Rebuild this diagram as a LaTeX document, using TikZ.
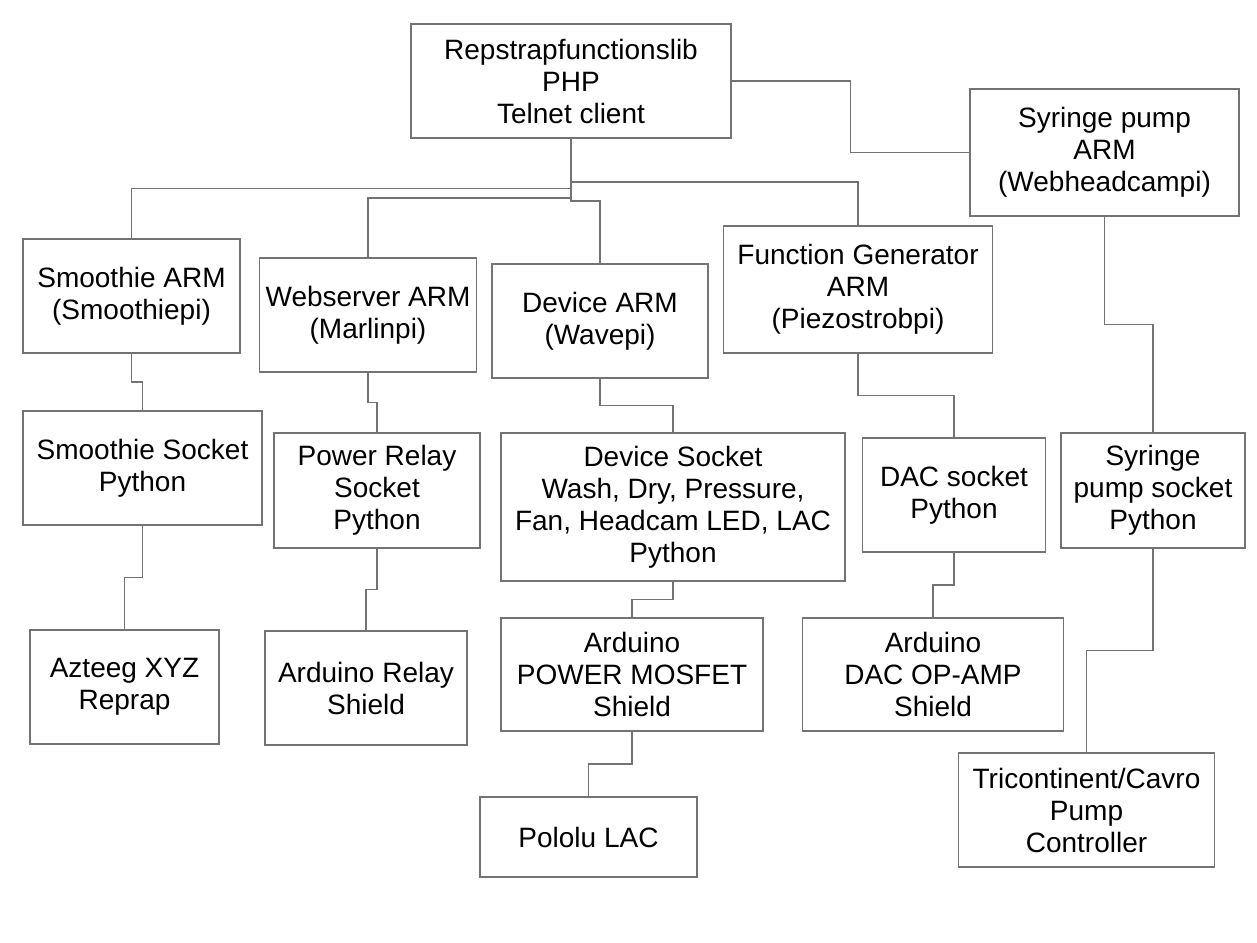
\documentclass[tikz,border=0pt]{standalone}
\usepackage{fontspec}
\setmainfont{Liberation Sans}
\usepackage{tikz}
\usetikzlibrary{calc}
\tikzset{
  unit box/.style={
     rectangle,
     draw=black!55,
     line width=1.4pt,
     align=center,
     inner sep=0pt,
     font=\fontsize{28}{32}\selectfont
  },
  wire/.style={draw=black!55, line width=1.4pt},
  vhv/.style={to path={|- ($(\tikztostart)!.5!(\tikztotarget)$) -| (\tikztotarget)}},
  hvh/.style={to path={-| ($(\tikztostart)!.5!(\tikztotarget)$) |- (\tikztotarget)}}
}
\begin{document}
\begin{tikzpicture}[x=1pt, y=-1pt]
  \fill[white] (0,0) rectangle (1257,942);
  \useasboundingbox (0,0) rectangle (1257,942);
  % Boxes
  \node[unit box, minimum width=320pt, minimum height=114pt] (T) at (571,81) {Repstrapfunctionslib\\PHP\\Telnet client};
  \node[unit box, minimum width=269pt, minimum height=127pt] (SA) at (1104.5,152.5) {Syringe pump\\ARM\\(Webheadcampi)};
  \node[unit box, minimum width=217pt, minimum height=114pt] (SmA) at (131.5,296) {Smoothie ARM\\(Smoothiepi)};
  \node[unit box, minimum width=217pt, minimum height=114pt] (WA) at (368,315) {Webserver ARM\\(Marlinpi)};
  \node[unit box, minimum width=216pt, minimum height=114pt] (DA) at (600,321) {Device ARM\\(Wavepi)};
  \node[unit box, minimum width=269pt, minimum height=127pt] (FG) at (858,289.5) {Function Generator\\ARM\\(Piezostrobpi)};
  \node[unit box, minimum width=239pt, minimum height=114pt] (SmS) at (142.5,468) {Smoothie Socket\\Python};
  \node[unit box, minimum width=206pt, minimum height=115pt] (PR) at (377,490.5) {Power Relay\\Socket\\Python};
  \node[unit box, minimum width=344pt, minimum height=148pt] (DS) at (673,507) {Device Socket\\Wash, Dry, Pressure,\\Fan, Headcam LED, LAC\\Python};
  \node[unit box, minimum width=183pt, minimum height=114pt] (DAC) at (954,495) {DAC socket\\Python};
  \node[unit box, minimum width=184pt, minimum height=115pt] (SS) at (1153,490.5) {Syringe\\pump socket\\Python};
  \node[unit box, minimum width=189pt, minimum height=114pt] (AZ) at (124.5,687) {Azteeg XYZ\\Reprap};
  \node[unit box, minimum width=202pt, minimum height=114pt] (ARS) at (366,688) {Arduino Relay\\Shield};
  \node[unit box, minimum width=262pt, minimum height=113pt] (PM) at (632,674.5) {Arduino\\POWER MOSFET\\Shield};
  \node[unit box, minimum width=261pt, minimum height=113pt] (DOS) at (933,674.5) {Arduino\\DAC OP-AMP\\Shield};
  \node[unit box, minimum width=217pt, minimum height=80pt] (PL) at (588.5,837) {Pololu LAC};
  \node[unit box, minimum width=256pt, minimum height=114pt] (TC) at (1086.5,810) {Tricontinent/Cavro\\Pump\\Controller};

  % Wires
  \draw[wire] (T.east) to[hvh] (SA.west);
  \draw[wire] (T.south) to[vhv] (SmA.north);
  \draw[wire] (T.south) to[vhv] (WA.north);
  \draw[wire] (T.south) to[vhv] (DA.north);
  \draw[wire] (T.south) to[vhv] (FG.north);
  \draw[wire] (SmA.south) to[vhv] (SmS.north);
  \draw[wire] (SmS.south) to[vhv] (AZ.north);
  \draw[wire] (WA.south) to[vhv] (PR.north);
  \draw[wire] (PR.south) to[vhv] (ARS.north);
  \draw[wire] (DA.south) to[vhv] (DS.north);
  \draw[wire] (DS.south) to[vhv] (PM.north);
  \draw[wire] (PM.south) to[vhv] (PL.north);
  \draw[wire] (FG.south) to[vhv] (DAC.north);
  \draw[wire] (DAC.south) to[vhv] (DOS.north);
  \draw[wire] (SA.south) to[vhv] (SS.north);
  \draw[wire] (SS.south) to[vhv] (TC.north);
\end{tikzpicture}
\end{document}
